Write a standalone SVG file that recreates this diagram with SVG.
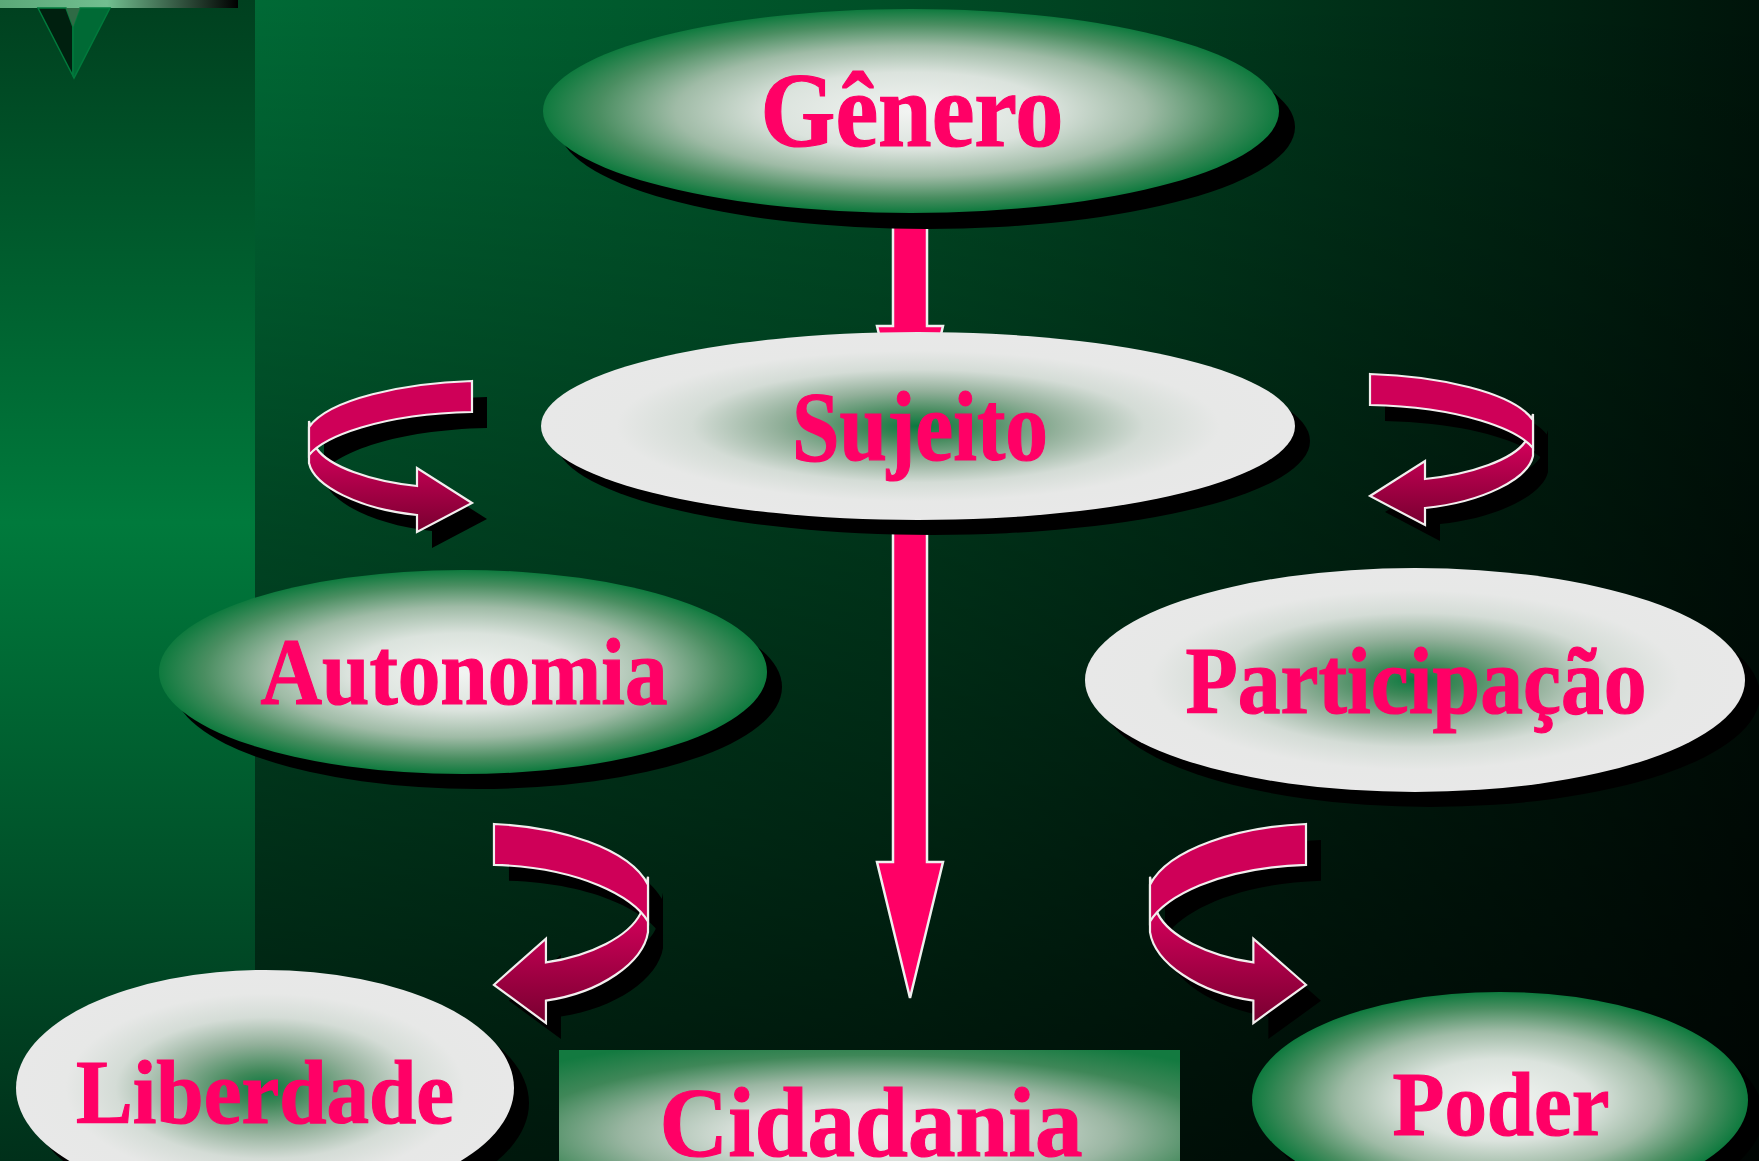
<svg xmlns="http://www.w3.org/2000/svg" xmlns:xlink="http://www.w3.org/1999/xlink" width="1759" height="1161" viewBox="0 0 1759 1161">
<style>
.lbl{font-family:"Liberation Serif","Times New Roman",serif;font-weight:bold;fill:#ff0066;stroke:#ff0066;stroke-width:1.2;text-anchor:middle}
.shadow{fill:#000}
.arr{fill:#ff0066;stroke:#f0f0f0;stroke-width:2.5;stroke-linejoin:miter}
.rib{stroke:#f2eeee;stroke-width:2.2;stroke-linejoin:miter}
</style>
<defs>
<linearGradient id="bgH" x1="0" y1="0" x2="1" y2="0">
<stop offset="0" stop-color="#00743b"/>
<stop offset="0.5" stop-color="#004f27"/>
<stop offset="0.78" stop-color="#002e17"/>
<stop offset="1" stop-color="#00140a"/>
</linearGradient>
<linearGradient id="bgV" x1="0" y1="0" x2="0" y2="1">
<stop offset="0" stop-color="#000" stop-opacity="0"/>
<stop offset="0.45" stop-color="#000" stop-opacity="0.35"/>
<stop offset="1" stop-color="#000" stop-opacity="0.75"/>
</linearGradient>
<linearGradient id="strip" x1="0" y1="0" x2="0" y2="1">
<stop offset="0" stop-color="#00401f"/>
<stop offset="0.45" stop-color="#007a3c"/>
<stop offset="1" stop-color="#00301a"/>
</linearGradient>
<linearGradient id="bar" x1="0" y1="0" x2="1" y2="0">
<stop offset="0" stop-color="#5aa878"/>
<stop offset="0.45" stop-color="#72bf90"/>
<stop offset="1" stop-color="#000"/>
</linearGradient>
<radialGradient id="gLight" cx="0.5" cy="0.5" r="0.5">
<stop offset="0" stop-color="#f2f4f2"/>
<stop offset="0.38" stop-color="#dbe3dd"/>
<stop offset="0.64" stop-color="#9fbba6"/>
<stop offset="0.85" stop-color="#4a8e61"/>
<stop offset="1" stop-color="#0e7a3e"/>
</radialGradient>
<radialGradient id="gDark" cx="0.5" cy="0.5" r="0.5">
<stop offset="0" stop-color="#0b7a40"/>
<stop offset="0.14" stop-color="#3f8859"/>
<stop offset="0.37" stop-color="#92b09a"/>
<stop offset="0.6" stop-color="#d4dcd6"/>
<stop offset="0.8" stop-color="#e7e8e7"/>
<stop offset="1" stop-color="#e8e8e8"/>
</radialGradient>
<radialGradient id="gRect" cx="0.5" cy="0.6" r="0.72">
<stop offset="0" stop-color="#eceeec"/>
<stop offset="0.3" stop-color="#d8e0da"/>
<stop offset="0.55" stop-color="#9ab6a2"/>
<stop offset="0.78" stop-color="#3f8758"/>
<stop offset="1" stop-color="#137a40"/>
</radialGradient>
<linearGradient id="ribBot" x1="0" y1="0" x2="0" y2="1">
<stop offset="0.25" stop-color="#d2005a"/>
<stop offset="1" stop-color="#780030"/>
</linearGradient>
<path id="cTop" vector-effect="non-scaling-stroke" d="M163,0 C95,2 20,18 0,46 L0,74 C15,56 70,33 163,31 Z"/>
<path id="cBot" vector-effect="non-scaling-stroke" d="M0,40 L0,82 C5,105 50,128 108,134 L108,151 L163,122 L108,87 L108,105 C60,100 20,85 8,68 Z"/>
</defs>

<!-- background -->
<rect x="0" y="0" width="1759" height="1161" fill="url(#bgH)"/>
<rect x="0" y="0" width="1759" height="1161" fill="url(#bgV)"/>
<rect x="0" y="0" width="255" height="1161" fill="url(#strip)"/>
<rect x="0" y="0" width="238" height="8" fill="url(#bar)"/>
<g id="ornament">
<polygon points="38,8 66,8 73,27 73,76" fill="#00200f" stroke="#007a3c" stroke-width="1.5"/>
<polygon points="73,27 80,8 110,8 74,78 73,76" fill="#006a35" stroke="#007a3c" stroke-width="1.5"/>
<polygon points="66,8 80,8 73,27" fill="#2f6a45"/>
</g>

<g id="connectors">
<polygon class="arr" points="893,196 927,196 927,326 943,326 910,462 877,326 893,326"/>
<polygon class="arr" points="893,500 927,500 927,862 943,862 910,998 877,862 893,862"/>
<!-- curved arrow shadows -->
<g transform="translate(15,16)">
<g transform="translate(309,381)"><use xlink:href="#cBot" class="shadow"/><use xlink:href="#cTop" class="shadow"/></g>
<g transform="translate(1533,374) scale(-1,1)"><use xlink:href="#cBot" class="shadow"/><use xlink:href="#cTop" class="shadow"/></g>
<g transform="translate(648,824) scale(-0.945,1.318)"><use xlink:href="#cBot" class="shadow"/><use xlink:href="#cTop" class="shadow"/></g>
<g transform="translate(1150,824) scale(0.957,1.318)"><use xlink:href="#cBot" class="shadow"/><use xlink:href="#cTop" class="shadow"/></g>
</g>
<g id="curl-sujeito-autonomia" transform="translate(309,381)"><use xlink:href="#cBot" class="rib" fill="url(#ribBot)"/><use xlink:href="#cTop" class="rib" fill="#cf0058"/></g>
<g id="curl-sujeito-participacao" transform="translate(1533,374) scale(-1,1)"><use xlink:href="#cBot" class="rib" fill="url(#ribBot)"/><use xlink:href="#cTop" class="rib" fill="#cf0058"/></g>
<g id="curl-autonomia-liberdade" transform="translate(648,824) scale(-0.945,1.318)"><use xlink:href="#cBot" class="rib" fill="url(#ribBot)"/><use xlink:href="#cTop" class="rib" fill="#cf0058"/></g>
<g id="curl-participacao-poder" transform="translate(1150,824) scale(0.957,1.318)"><use xlink:href="#cBot" class="rib" fill="url(#ribBot)"/><use xlink:href="#cTop" class="rib" fill="#cf0058"/></g>
</g>

<g id="node-genero">
<ellipse class="shadow" cx="927" cy="127" rx="368" ry="102"/>
<ellipse cx="911" cy="111" rx="368" ry="102" fill="url(#gLight)"/>
<text class="lbl" x="912" y="146" font-size="106" textLength="303" lengthAdjust="spacingAndGlyphs">Gênero</text>
</g>

<g id="node-sujeito">
<ellipse class="shadow" cx="933" cy="441" rx="377" ry="94"/>
<ellipse cx="918" cy="426" rx="377" ry="94" fill="url(#gDark)"/>
<text class="lbl" x="920" y="460" font-size="100" textLength="256" lengthAdjust="spacingAndGlyphs">Sujeito</text>
</g>

<g id="node-autonomia">
<ellipse class="shadow" cx="478" cy="687" rx="304" ry="102"/>
<ellipse cx="463" cy="672" rx="304" ry="102" fill="url(#gLight)"/>
<text class="lbl" x="464" y="704" font-size="95" textLength="407" lengthAdjust="spacingAndGlyphs">Autonomia</text>
</g>

<g id="node-participacao">
<ellipse class="shadow" cx="1430" cy="695" rx="330" ry="112"/>
<ellipse cx="1415" cy="680" rx="330" ry="112" fill="url(#gDark)"/>
<text class="lbl" x="1416" y="713" font-size="95" textLength="461" lengthAdjust="spacingAndGlyphs">Participação</text>
</g>

<g id="node-liberdade">
<ellipse class="shadow" cx="280" cy="1103" rx="249" ry="118"/>
<ellipse cx="265" cy="1088" rx="249" ry="118" fill="url(#gDark)"/>
<text class="lbl" x="265" y="1123" font-size="92" textLength="378" lengthAdjust="spacingAndGlyphs">Liberdade</text>
</g>

<g id="node-poder">
<ellipse class="shadow" cx="1515" cy="1115" rx="248" ry="108"/>
<ellipse cx="1500" cy="1100" rx="248" ry="108" fill="url(#gLight)"/>
<text class="lbl" x="1501" y="1135" font-size="92" textLength="217" lengthAdjust="spacingAndGlyphs">Poder</text>
</g>

<g id="node-cidadania">
<rect x="559" y="1050" width="621" height="140" fill="url(#gRect)"/>
<text class="lbl" x="871" y="1156" font-size="100" textLength="423" lengthAdjust="spacingAndGlyphs">Cidadania</text>
</g>
</svg>
